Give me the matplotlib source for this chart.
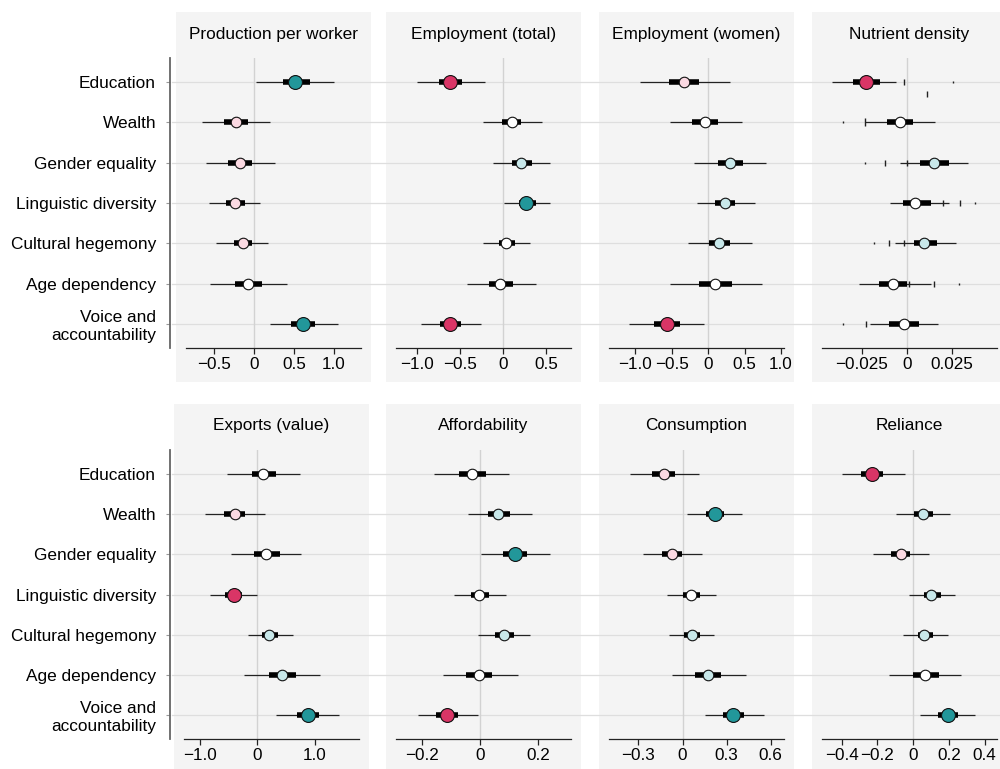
import matplotlib
matplotlib.use("Agg")
import matplotlib.pyplot as plt
import matplotlib.transforms as mtransforms
from matplotlib.patches import Rectangle
from matplotlib.lines import Line2D

plt.rcParams['font.family'] = ['Liberation Sans', 'DejaVu Sans']
plt.rcParams['axes.unicode_minus'] = True

categories = ["Education", "Wealth", "Gender equality", "Linguistic diversity",
              "Cultural hegemony", "Age dependency", "Voice and\naccountability"]

titles = ["Production per worker", "Employment (total)", "Employment (women)", "Nutrient density",
          "Exports (value)", "Affordability", "Consumption", "Reliance"]

# point estimates
est_prod = [0.52, -0.23, -0.18, -0.24, -0.14, -0.08, 0.61]
est_empt = [-0.61, 0.10, 0.21, 0.27, 0.04, -0.03, -0.61]
est_empw = [-0.33, -0.05, 0.30, 0.23, 0.15, 0.09, -0.56]
est_nutr = [-0.0224, -0.0040, 0.0153, 0.0048, 0.0097, -0.0077, -0.0018]
est_expo = [0.11, -0.39, 0.16, -0.41, 0.21, 0.43, 0.88]
est_affo = [-0.029, 0.063, 0.122, -0.002, 0.083, -0.003, -0.114]
est_cons = [-0.127, 0.220, -0.075, 0.057, 0.061, 0.170, 0.345]
est_reli = [-0.229, 0.054, -0.067, 0.102, 0.063, 0.069, 0.196]

# outer (thin) intervals
lo_prod = [0.03, -0.65, -0.60, -0.56, -0.47, -0.55, 0.20]
hi_prod = [1.00, 0.20, 0.26, 0.08, 0.18, 0.42, 1.05]
lo_empt = [-1.00, -0.23, -0.11, 0.01, -0.23, -0.42, -0.95]
hi_empt = [-0.21, 0.45, 0.55, 0.55, 0.32, 0.38, -0.25]
lo_empw = [-0.93, -0.53, -0.19, -0.16, -0.27, -0.53, -1.08]
hi_empw = [0.30, 0.47, 0.79, 0.64, 0.60, 0.74, -0.06]
lo_nutr = [-0.0417, -0.0233, -0.0040, -0.0092, -0.0068, -0.0267, -0.0206]
hi_nutr = [-0.0059, 0.0158, 0.0342, 0.0235, 0.0272, 0.0134, 0.0171]
lo_expo = [-0.52, -0.90, -0.46, -0.81, -0.16, -0.22, 0.33]
hi_expo = [0.74, 0.14, 0.77, 0.00, 0.63, 1.10, 1.42]
lo_affo = [-0.158, -0.043, 0.003, -0.091, -0.006, -0.129, -0.215]
hi_affo = [0.100, 0.179, 0.242, 0.088, 0.174, 0.131, -0.008]
lo_cons = [-0.355, 0.032, -0.268, -0.109, -0.091, -0.070, 0.152]
hi_cons = [0.114, 0.407, 0.130, 0.225, 0.214, 0.432, 0.555]
lo_reli = [-0.397, -0.093, -0.223, -0.024, -0.056, -0.136, 0.037]
hi_reli = [-0.048, 0.209, 0.091, 0.236, 0.194, 0.270, 0.348]

# inner (thick) intervals
ilo_prod = [0.36, -0.38, -0.33, -0.35, -0.25, -0.24, 0.47]
ihi_prod = [0.70, -0.07, -0.03, -0.11, -0.02, 0.10, 0.77]
ilo_empt = [-0.74, -0.01, 0.10, 0.19, -0.04, -0.16, -0.73]
ihi_empt = [-0.47, 0.21, 0.34, 0.38, 0.14, 0.12, -0.49]
ilo_empw = [-0.54, -0.22, 0.13, 0.09, 0.01, -0.12, -0.74]
ihi_empw = [-0.12, 0.13, 0.48, 0.37, 0.30, 0.32, -0.39]
ilo_nutr = [-0.0298, -0.0110, 0.0075, -0.0022, 0.0039, -0.0154, -0.0101]
ihi_nutr = [-0.0151, 0.0033, 0.0232, 0.0134, 0.0165, 0.0000, 0.0066]
ilo_expo = [-0.09, -0.57, -0.05, -0.55, 0.09, 0.20, 0.70]
ihi_expo = [0.32, -0.21, 0.39, -0.26, 0.36, 0.67, 1.08]
ilo_affo = [-0.074, 0.026, 0.080, -0.032, 0.051, -0.048, -0.151]
ihi_affo = [0.019, 0.103, 0.163, 0.031, 0.117, 0.043, -0.077]
ilo_cons = [-0.205, 0.157, -0.139, 0.000, 0.011, 0.084, 0.277]
ihi_cons = [-0.048, 0.284, -0.002, 0.118, 0.118, 0.261, 0.418]
ilo_reli = [-0.289, 0.007, -0.123, 0.060, 0.026, -0.002, 0.138]
ihi_reli = [-0.168, 0.110, -0.015, 0.156, 0.110, 0.143, 0.251]

# significance class: S+ strong positive, W+ weak positive, N none, W- weak negative, S- strong negative
sig_prod = ["S+", "W-", "W-", "W-", "W-", "N", "S+"]
sig_empt = ["S-", "N", "W+", "S+", "N", "N", "S-"]
sig_empw = ["W-", "N", "W+", "W+", "W+", "N", "S-"]
sig_nutr = ["S-", "N", "W+", "N", "W+", "N", "N"]
sig_expo = ["N", "W-", "N", "S-", "W+", "W+", "S+"]
sig_affo = ["N", "W+", "S+", "N", "W+", "N", "S-"]
sig_cons = ["W-", "S+", "W-", "N", "W+", "W+", "S+"]
sig_reli = ["S-", "W+", "W-", "W+", "W+", "N", "S+"]

# stray marks in the nutrient density panel (row position, value, mark size)
nd_extra_row = [0, 0, 0.3, 1, 1, 2, 2, 2, 3, 3, 3, 4, 4, 4, 5, 5, 5, 6, 6]
nd_extra_val = [-0.0017, 0.0254, 0.011, -0.0353, -0.0233, -0.0233, -0.012, 0.0, 0.0202, 0.0294,
                0.0379, -0.0182, -0.0099, -0.0013, 0.001, 0.0153, 0.0287, -0.0353, -0.0228]
nd_extra_size = [5, 1.5, 5, 1.5, 6, 1.5, 5, 4, 5, 5, 1.5, 1.5, 5, 4, 4, 5, 1.5, 1.5, 5]

xlims = [(-0.85, 1.34), (-1.24, 0.79), (-1.36, 1.04), (-0.047, 0.050),
         (-1.27, 1.77), (-0.29, 0.314), (-0.50, 0.69), (-0.51, 0.47)]
xticks = [[-0.5, 0, 0.5, 1.0], [-1.0, -0.5, 0, 0.5], [-1.0, -0.5, 0, 0.5, 1.0], [-0.025, 0, 0.025],
          [-1.0, 0, 1.0], [-0.2, 0, 0.2], [-0.3, 0, 0.3, 0.6], [-0.4, -0.2, 0, 0.2, 0.4]]
xticklabels = [["\u22120.5", "0", "0.5", "1.0"], ["\u22121.0", "\u22120.5", "0", "0.5"],
               ["\u22121.0", "\u22120.5", "0", "0.5", "1.0"], ["\u22120.025", "0", "0.025"],
               ["\u22121.0", "0", "1.0"], ["\u22120.2", "0", "0.2"], ["\u22120.3", "0", "0.3", "0.6"],
               ["\u22120.4", "\u22120.2", "0", "0.2", "0.4"]]

ests = [est_prod, est_empt, est_empw, est_nutr, est_expo, est_affo, est_cons, est_reli]
los = [lo_prod, lo_empt, lo_empw, lo_nutr, lo_expo, lo_affo, lo_cons, lo_reli]
his = [hi_prod, hi_empt, hi_empw, hi_nutr, hi_expo, hi_affo, hi_cons, hi_reli]
ilos = [ilo_prod, ilo_empt, ilo_empw, ilo_nutr, ilo_expo, ilo_affo, ilo_cons, ilo_reli]
ihis = [ihi_prod, ihi_empt, ihi_empw, ihi_nutr, ihi_expo, ihi_affo, ihi_cons, ihi_reli]
sigs = [sig_prod, sig_empt, sig_empw, sig_nutr, sig_expo, sig_affo, sig_cons, sig_reli]

colors = {"S+": "#22979a", "W+": "#c8e8ea", "N": "#ffffff", "W-": "#fbd9e2", "S-": "#d93566"}
msizes = {"S+": 10.0, "W+": 7.6, "N": 7.6, "W-": 7.6, "S-": 10.0}

W, H = 1000, 769
fig = plt.figure(figsize=(10, 7.69), dpi=100)
fig.patch.set_facecolor("white")

lefts_px = [[186, 396, 609, 822], [184, 396, 609, 822]]
ax_w = 175
rows_px = [(58, 348), (450, 739)]
bg_rows_px = [(12, 382), (404, 775)]
title_y_px = [35, 425]

bg_col = "#f4f4f4"
grid_col = "#dedede"
PX = 72.0 / 100.0  # points per pixel

ypos = list(range(len(categories)))

for r in range(2):
    top, bot = rows_px[r]
    for c in range(4):
        k = r * 4 + c
        left = lefts_px[r][c]
        # panel background
        bt, bb = bg_rows_px[r]
        fig.patches.append(Rectangle(((left - 10) / W, 1 - bb / H), (ax_w + 20) / W, (bb - bt) / H,
                                     transform=fig.transFigure, facecolor=bg_col, edgecolor="none",
                                     zorder=-10))
        ax = fig.add_axes([left / W, 1 - bot / H, ax_w / W, (bot - top) / H])
        ax.set_facecolor("none")
        ax.set_xlim(*xlims[k])
        ax.set_ylim(len(categories) - 0.4, -0.6)
        ax.axvline(0, color="#d2d2d2", lw=1.0, zorder=1)

        est, lo, hi, ilo, ihi, sg = ests[k], los[k], his[k], ilos[k], ihis[k], sigs[k]
        ax.hlines(ypos, lo, hi, color="#222222", lw=0.9, zorder=3)
        ax.hlines(ypos, ilo, ihi, color="#000000", lw=4.0, zorder=4)
        for i in ypos:
            ax.plot(est[i], i, "o", ms=msizes[sg[i]], mfc=colors[sg[i]], mec="#111111",
                    mew=0.8, zorder=5)
        if k == 3:
            for rr, vv, ss in zip(nd_extra_row, nd_extra_val, nd_extra_size):
                ax.plot(vv, rr, marker="|", ms=ss, mew=1.0, color="#222222", zorder=3)

        ax.set_xticks(xticks[k])
        ax.set_xticklabels(xticklabels[k])
        ax.tick_params(axis="x", length=4, width=0.9, color="#222222", labelsize=12.3, pad=2.5)
        for s in ["top", "right"]:
            ax.spines[s].set_visible(False)
        ax.spines["bottom"].set_color("#222222")
        ax.spines["bottom"].set_linewidth(0.9)

        if c == 0:
            ax.spines["left"].set_position(("outward", (left - 170) * PX))
            ax.spines["left"].set_color("#666666")
            ax.spines["left"].set_linewidth(1.3)
            ax.set_yticks(ypos)
            ax.set_yticklabels(categories, fontsize=12.4, linespacing=1.2)
            ax.tick_params(axis="y", length=3, width=0.8, color="#999999", pad=7)
            # horizontal guide lines across the whole row
            trans = mtransforms.blended_transform_factory(fig.transFigure, ax.transData)
            for i in ypos:
                ln = Line2D([172 / W, 1.0], [i, i], transform=trans, color=grid_col, lw=0.9,
                            zorder=0.5, clip_on=False)
                ax.add_line(ln)
        else:
            ax.spines["left"].set_visible(False)
            ax.set_yticks([])

        fig.text((left + ax_w / 2) / W, 1 - title_y_px[r] / H, titles[k], ha="center",
                 va="center", fontsize=12.4)

fig.savefig("out.png", dpi=100)
